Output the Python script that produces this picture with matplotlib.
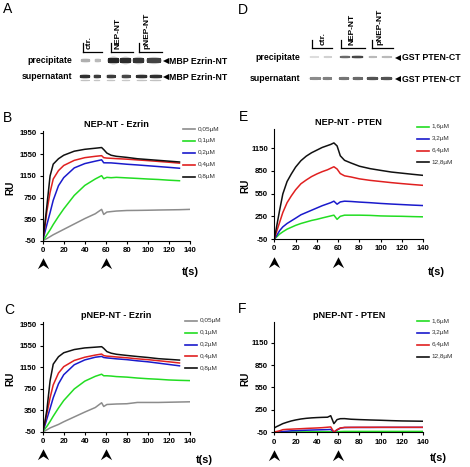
import matplotlib.pyplot as plt
import numpy as np
from matplotlib.patches import Ellipse, Rectangle
from matplotlib.path import Path

plt.rcParams['font.family'] = ['Liberation Sans', 'DejaVu Sans']
plt.rcParams['axes.unicode_minus'] = False

# ---------------- data ----------------
# Ezrin sensorgrams (panels B and C), RU vs t(s)
t_ez = [0, 2, 4, 7, 10, 15, 20, 30, 40, 50, 56, 58, 61, 65, 70, 80, 90, 100, 110, 120, 130, 140]
ez_labels = ['0,05µM', '0,1µM', '0,2µM', '0,4µM', '0,8µM']

b_005 = [-50, -30, -10, 25, 60, 110, 160, 260, 360, 450, 531, 437, 481, 490, 500, 510, 512, 515, 519, 522, 525, 531]
b_01 = [-50, 0, 60, 150, 250, 400, 540, 790, 975, 1095, 1156, 1100, 1125, 1118, 1125, 1115, 1105, 1094, 1085, 1072, 1062, None]
b_02 = [-50, 100, 250, 469, 700, 970, 1120, 1300, 1380, 1425, 1450, 1395, 1394, 1393, 1385, 1368, 1355, 1340, 1325, 1310, 1294, None]
b_04 = [-50, 200, 500, 844, 1094, 1250, 1345, 1440, 1490, 1515, 1527, 1490, 1482, 1478, 1472, 1462, 1448, 1435, 1420, 1405, 1388, None]
b_08 = [-50, 250, 600, 1150, 1370, 1470, 1535, 1610, 1645, 1665, 1678, 1640, 1575, 1535, 1515, 1495, 1470, 1455, 1440, 1425, 1410, None]

c_005 = [-50, -35, -15, 20, 45, 85, 135, 225, 315, 400, 488, 419, 456, 460, 465, 470, 494, 494, 494, 498, 502, 506]
c_01 = [-50, 0, 50, 140, 238, 390, 530, 745, 890, 980, 1019, 990, 990, 985, 975, 965, 948, 935, 925, 912, 905, 900]
c_02 = [-50, 60, 190, 380, 581, 840, 1010, 1195, 1285, 1335, 1350, 1330, 1322, 1315, 1305, 1290, 1268, 1250, 1225, 1200, 1175, None]
c_04 = [-50, 110, 290, 580, 820, 1040, 1160, 1275, 1335, 1375, 1394, 1365, 1355, 1350, 1340, 1325, 1305, 1290, 1270, 1250, 1228, None]
c_08 = [-50, 120, 360, 894, 1206, 1344, 1418, 1478, 1508, 1522, 1531, 1500, 1440, 1410, 1390, 1368, 1348, 1330, 1308, 1295, 1282, None]

# PTEN sensorgrams (panels E and F)
t_pt = [0, 2, 5, 8, 12, 16, 20, 25, 30, 35, 40, 45, 50, 53, 56, 59, 62, 66, 72, 80, 90, 100, 110, 120, 130, 140]
pt_labels = ['1,6µM', '3,2µM', '6,4µM', '12,8µM']

e_16 = [-50, -25, 15, 45, 80, 105, 130, 155, 175, 195, 210, 228, 245, 255, 265, 210, 250, 265, 265, 265, 262, 255, 252, 250, 246, 243]
e_32 = [-50, -10, 60, 110, 155, 190, 225, 270, 300, 330, 360, 390, 415, 430, 450, 410, 440, 450, 446, 438, 430, 420, 412, 405, 398, 392]
e_64 = [-50, 40, 170, 300, 430, 520, 600, 680, 730, 775, 810, 840, 865, 885, 905, 875, 815, 785, 770, 745, 725, 710, 695, 682, 670, 659]
e_128 = [-50, 100, 330, 545, 710, 810, 900, 985, 1045, 1090, 1125, 1160, 1185, 1200, 1220, 1180, 1050, 990, 955, 912, 880, 857, 835, 820, 805, 791]

f_16 = [-50, -49, -48, -47, -46, -45, -45, -44, -44, -43, -43, -42, -42, -42, -48, -44, -40, -38, -38, -38, -38, -38, -38, -38, -38, -38]
f_32 = [-50, -48, -45, -40, -35, -30, -28, -25, -22, -20, -18, -16, -14, -12, -46, -20, 5, 14, 15, 15, 15, 16, 16, 16, 16, 16]
f_64 = [-46, -40, -30, -15, -10, -8, -5, -2, 2, 5, 8, 12, 18, 22, -46, -14, 8, 15, 16, 17, 17, 17, 17, 17, 17, 17]
f_128 = [8, 25, 45, 66, 85, 102, 115, 128, 137, 143, 147, 150, 152, 172, 66, 120, 132, 133, 125, 120, 115, 111, 106, 102, 100, 98]

# western blot band intensities (0 = empty, 1 = black), lanes ctr ctr NEP NEP pNEP pNEP
a_precip = [0.35, 0.3, 0.95, 0.92, 0.88, 0.82]
a_super = [0.9, 0.85, 0.85, 0.8, 0.9, 0.9]
d_precip = [0.15, 0.2, 0.65, 0.8, 0.3, 0.3]
d_super = [0.5, 0.55, 0.6, 0.65, 0.75, 0.75]
lane_groups = ['ctr.', 'NEP-NT', 'pNEP-NT']

ez_colors = ['#8c8c8c', '#22dd22', '#1a1acc', '#e02020', '#111111']
pt_colors = ['#22dd22', '#1a1acc', '#e02020', '#111111']

W, H = 470, 467
fig = plt.figure(figsize=(W / 100, H / 100), dpi=100)
bg = fig.add_axes([0, 0, 1, 1])
bg.set_xlim(0, W)
bg.set_ylim(H, 0)
bg.axis('off')

chev = Path([(0, 1), (0.9, -0.75), (0, -0.15), (-0.9, -0.75), (0, 1)],
            [Path.MOVETO, Path.LINETO, Path.LINETO, Path.LINETO, Path.CLOSEPOLY])


def sensorgram(x0, x1, ytop, ybot, ylim, yticks, t, series, colors, labels,
               title, letter, leg_x, leg_y, ts_xy, ru_x):
    ax = fig.add_axes([x0 / W, 1 - ybot / H, (x1 - x0) / W, (ybot - ytop) / H])
    ax.patch.set_alpha(0)
    for s, c in zip(series, colors):
        y = np.array([np.nan if v is None else v for v in s], dtype=float)
        ax.plot(t, y, color=c, lw=1.1, solid_joinstyle='round')
    ax.set_xlim(0, 140)
    ax.set_ylim(*ylim)
    ax.set_xticks(range(0, 141, 20))
    ax.set_yticks(yticks)
    for sp in ['top', 'right']:
        ax.spines[sp].set_visible(False)
    for sp in ['left', 'bottom']:
        ax.spines[sp].set_linewidth(0.8)
    ax.tick_params(length=2.5, width=0.8, pad=2, labelsize=5.6)
    for lab in ax.get_xticklabels() + ax.get_yticklabels():
        lab.set_fontweight('bold')
    ax.set_title(title, fontsize=6.6, fontweight='bold', pad=3)
    # legend drawn by hand
    for i, (c, l) in enumerate(zip(colors, labels)):
        yy = leg_y + i * 11.9
        bg.plot([leg_x, leg_x + 12], [yy, yy], color=c, lw=1.2)
        bg.text(leg_x + 15, yy, l, fontsize=4.6, va='center', ha='left', color='#333333')
    # arrowheads at injection start and end
    for tt in (0, 60):
        px = x0 + tt / 140 * (x1 - x0)
        bg.plot(px, ybot + 23.5, marker=chev, ms=9, color='k', mew=0)
    bg.text(ts_xy[0], ts_xy[1], 't(s)', fontsize=7.8, fontweight='bold', ha='center', va='center')
    bg.text(ru_x, (ytop + ybot) / 2 + 2, 'RU', fontsize=7.2, fontweight='bold', rotation=90,
            ha='center', va='center')
    bg.text(letter[1], letter[2], letter[0], fontsize=10, ha='center', va='center')
    return ax


sensorgram(42.7, 190, 130.7, 240.7, (-50, 1990), [-50, 350, 750, 1150, 1550, 1950], t_ez,
           [b_005, b_01, b_02, b_04, b_08], ez_colors, ez_labels, 'NEP-NT - Ezrin',
           ('B', 7, 118), 183, 129, (190, 272), 10)
sensorgram(42.7, 190, 322, 431.7, (-50, 1990), [-50, 350, 750, 1150, 1550, 1950], t_ez,
           [c_005, c_01, c_02, c_04, c_08], ez_colors, ez_labels, 'pNEP-NT - Ezrin',
           ('C', 9, 310), 184.5, 320.7, (204, 460), 10)
sensorgram(274.3, 423.3, 129.3, 239, (-50, 1400), [-50, 250, 550, 850, 1150], t_pt,
           [e_16, e_32, e_64, e_128], pt_colors, pt_labels, 'NEP-NT - PTEN',
           ('E', 243, 117), 416.7, 126.7, (436, 271.7), 245)
sensorgram(274.3, 423.3, 321.7, 432.3, (-50, 1430), [-50, 250, 550, 850, 1150], t_pt,
           [f_16, f_32, f_64, f_128], pt_colors, pt_labels, 'pNEP-NT - PTEN',
           ('F', 242, 309), 416.7, 321, (438, 458), 245)


def band(x, y, w, h, v):
    g = str(1 - 0.9 * v)
    bg.add_patch(Ellipse((x, y), w * 1.15, h * 1.6, facecolor=g, edgecolor='none', alpha=0.3))
    bg.add_patch(Rectangle((x - w / 2, y - h / 2), w, h, facecolor=g, edgecolor='none'))


def blot(letter, lxy, brackets, lab_x, row_lab_x, rows, arrow_x, protein):
    bg.text(lxy[0], lxy[1], letter, fontsize=10, ha='center', va='center')
    for (xa, xb, yb), name, lx in zip(brackets, lane_groups, lab_x):
        bg.plot([xa, xb], [yb, yb], color='k', lw=0.9)
        bg.plot([xa, xa], [yb - 8.5, yb], color='k', lw=0.9)
        bg.text(lx, yb - 3, name, rotation=90, fontsize=6, fontweight='bold',
                ha='center', va='bottom')
    for name, y, xs, ws, h, vals, extra in rows:
        bg.text(row_lab_x, y, name, fontsize=6.3, fontweight='bold', ha='right', va='center')
        for x, w, v in zip(xs, ws, vals):
            hh = h * (0.45 + 0.55 * v) if not extra else h
            band(x, y, w, hh, v)
            if extra:
                band(x, y + 4, w * 0.9, 1.4, 0.3 * v)
        bg.plot(arrow_x, y + 0.5, marker='<', ms=3.8, color='k', mew=0)
        bg.text(arrow_x + 3.5, y + 0.5, protein, fontsize=6.3, fontweight='bold',
                ha='left', va='center')


blot('A', (8, 9),
     [(82.7, 101.7, 51.7), (111, 133.3, 51.7), (139.3, 161.7, 51.7)], [89.5, 118.5, 146.7], 72,
     [('precipitate', 60.5, [85.5, 97.5, 113.5, 125.5, 138.5, 154], [9, 6, 11, 11, 11, 14], 5.0,
       a_precip, False),
      ('supernatant', 76.5, [85, 97, 111, 126, 141.7, 155.8], [10, 7, 9, 9, 11, 12], 3.2,
       a_super, True)],
     165.7, 'MBP Ezrin-NT')

blot('D', (243, 10),
     [(311.7, 331.7, 48.3), (341, 365, 48.3), (372.3, 393.3, 48.3)], [322.7, 351.7, 380], 300,
     [('precipitate', 57, [314, 327.5, 345, 357.5, 372.5, 386.7], [9, 8, 10, 11, 8, 10], 2.8,
       d_precip, False),
      ('supernatant', 78.5, [315, 327, 344, 357.5, 372.5, 386.7], [11, 9, 10, 10, 11, 11], 3.0,
       d_super, False)],
     398, 'GST PTEN-CT')

fig.savefig('out.png', dpi=100)
